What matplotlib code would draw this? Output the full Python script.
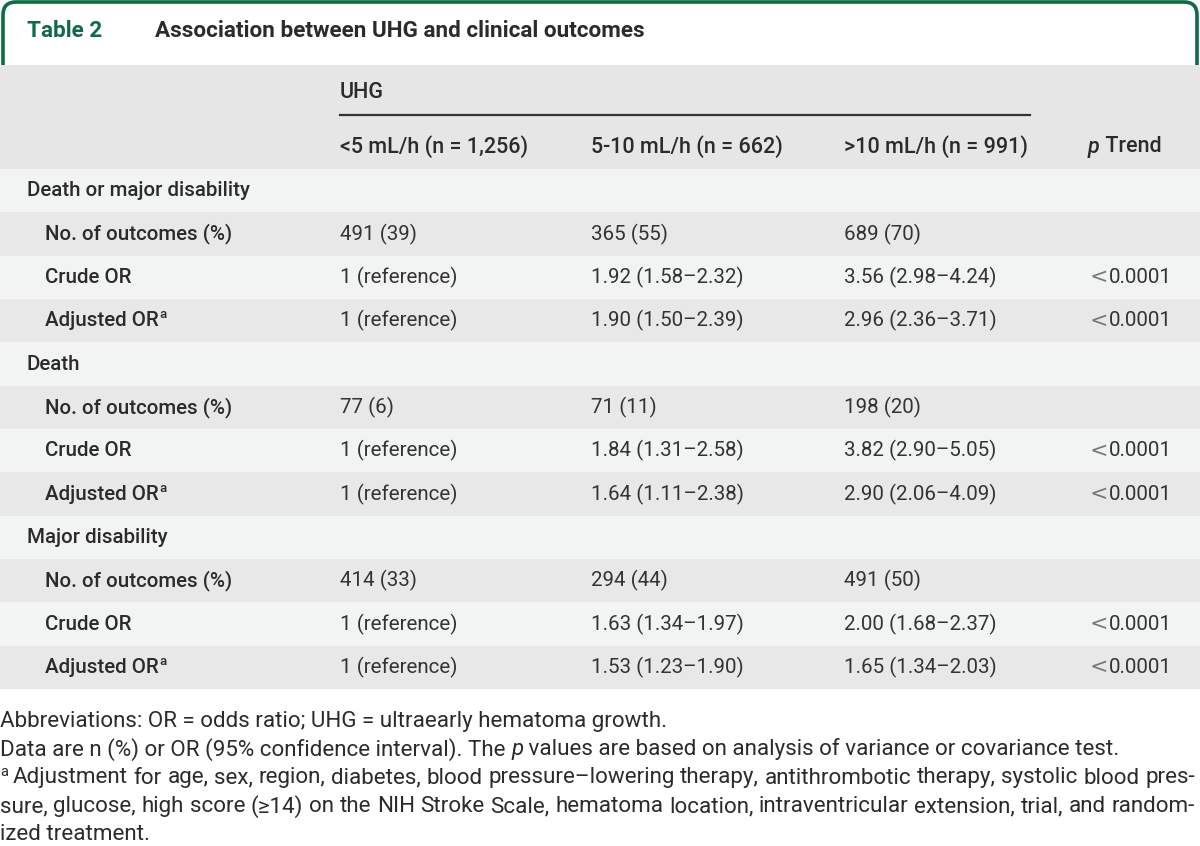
import matplotlib.pyplot as plt
from matplotlib.patches import FancyBboxPatch, Rectangle

plt.rcParams['font.family'] = ['Roboto', 'DejaVu Sans']

# table content
table_no = "Table 2"
title = "Association between UHG and clinical outcomes"
col_group = "UHG"
col_heads = ["<5 mL/h (n = 1,256)", "5-10 mL/h (n = 662)", ">10 mL/h (n = 991)"]
groups = ["Death or major disability", "Death", "Major disability"]
sub_labels = ["No. of outcomes (%)", "Crude OR", "Adjusted OR"]
lt5 = [["491 (39)", "1 (reference)", "1 (reference)"],
       ["77 (6)", "1 (reference)", "1 (reference)"],
       ["414 (33)", "1 (reference)", "1 (reference)"]]
mid = [["365 (55)", "1.92 (1.58–2.32)", "1.90 (1.50–2.39)"],
       ["71 (11)", "1.84 (1.31–2.58)", "1.64 (1.11–2.38)"],
       ["294 (44)", "1.63 (1.34–1.97)", "1.53 (1.23–1.90)"]]
gt10 = [["689 (70)", "3.56 (2.98–4.24)", "2.96 (2.36–3.71)"],
        ["198 (20)", "3.82 (2.90–5.05)", "2.90 (2.06–4.09)"],
        ["491 (50)", "2.00 (1.68–2.37)", "1.65 (1.34–2.03)"]]
p_trend = [["", "0.0001", "0.0001"],
           ["", "0.0001", "0.0001"],
           ["", "0.0001", "0.0001"]]
foot1 = "Abbreviations: OR = odds ratio; UHG = ultraearly hematoma growth."
foot2a = "Data are n (%) or OR (95% confidence interval). The "
foot2b = " values are based on analysis of variance or covariance test."
foot3 = ["Adjustment for age, sex, region, diabetes, blood pressure–lowering therapy, antithrombotic therapy, systolic blood pres-",
         "sure, glucose, high score (≥14) on the NIH Stroke Scale, hematoma location, intraventricular extension, trial, and random-",
         "ized treatment."]

GREEN = "#0f6a45"
TXT = "#2b2b2b"
HEAD_BG = "#e6e6e6"
LIGHT = "#f2f3f3"
DARK = "#e8e8e8"
FS = 14.8    # body
HFS = 15.5   # header
FFS = 16.1   # footnotes

fig = plt.figure(figsize=(12, 8.46), dpi=100)
ax = fig.add_axes([0, 0, 1, 1])
ax.set_xlim(0, 1200)
ax.set_ylim(846, 0)
ax.axis("off")
renderer = fig.canvas.get_renderer()
inv = ax.transData.inverted()


def width_of(t):
    bb = t.get_window_extent(renderer)
    return inv.transform((bb.x1, 0))[0] - inv.transform((bb.x0, 0))[0]


def put_runs(x, y, runs):
    # place text pieces one after another on the same line
    for s, kw in runs:
        t = ax.text(x, y, s, va="center", ha="left", **kw)
        bb = t.get_window_extent(renderer)
        x = inv.transform((bb.x1, bb.y0))[0]
    return x


def justify(x0, x1, y, line, **kw):
    # spread the words so the line runs from x0 to x1
    words = line.split(" ")
    texts = [ax.text(x0, y, w, va="center", ha="left", **kw) for w in words]
    widths = [width_of(t) for t in texts]
    gap = (x1 - x0 - sum(widths)) / (len(words) - 1)
    x = x0
    for t, w in zip(texts, widths):
        t.set_x(x)
        x += w + gap


# title box
ax.add_patch(FancyBboxPatch((3, 2), 1194, 90, boxstyle="round,pad=0,rounding_size=13",
                            fc="white", ec=GREEN, lw=2.6, zorder=1))
ax.text(27, 31, table_no, color=GREEN, fontsize=16.2, fontweight="bold", va="center", zorder=3)
ax.text(155, 31, title, color=TXT, fontsize=16.2, fontweight="bold", va="center", zorder=3)

# header
ax.add_patch(Rectangle((0, 65), 1200, 104, fc=HEAD_BG, ec="none", zorder=2))
ax.text(340, 92, col_group, color=TXT, fontsize=HFS, fontweight="medium", va="center", zorder=3)
ax.plot([340, 1030], [115, 115], color="#333333", lw=1.6, zorder=3)
col_x = [340, 591, 844]
for cx, h in zip(col_x, col_heads):
    ax.text(cx, 147, h, color=TXT, fontsize=HFS, fontweight="medium", va="center", zorder=3)
put_runs(1088, 147, [("p", dict(color=TXT, fontsize=HFS, fontweight="medium", style="italic", zorder=3)),
                     (" Trend", dict(color=TXT, fontsize=HFS, fontweight="medium", zorder=3))])

# body rows
row_h = 520 / 12
top = 169
r = 0
for g in range(len(groups)):
    y0 = top + r * row_h
    ax.add_patch(Rectangle((0, y0), 1200, row_h, fc=LIGHT, ec="none", zorder=2))
    ax.text(27, y0 + row_h / 2, groups[g], color=TXT, fontsize=FS, fontweight="medium", va="center", zorder=3)
    r += 1
    for k in range(len(sub_labels)):
        y0 = top + r * row_h
        yc = y0 + row_h / 2
        ax.add_patch(Rectangle((0, y0), 1200, row_h, fc=DARK if k % 2 == 0 else LIGHT, ec="none", zorder=2))
        lab = dict(color=TXT, fontsize=FS, fontweight="medium", zorder=3)
        xe = put_runs(45, yc, [(sub_labels[k], lab)])
        if sub_labels[k].startswith("Adjusted"):
            ax.text(xe + 1, yc - 6, "a", color=TXT, fontsize=9.5, fontweight="medium", va="center", zorder=3)
        for cx, col in zip(col_x, [lt5, mid, gt10]):
            ax.text(cx, yc, col[g][k], color="#333333", fontsize=FS, va="center", zorder=3)
        if p_trend[g][k]:
            t = ax.text(1172, yc, p_trend[g][k], color="#333333", fontsize=FS, va="center", ha="right", zorder=3)
            x0 = inv.transform((t.get_window_extent(renderer).x0, 0))[0]
            ax.text(x0 - 1, yc, "<", color="#777777", fontsize=FS + 1, va="center", ha="right",
                    family="DejaVu Sans", zorder=3)
        r += 1

# footnotes
fy = [721, 749.5, 778, 806.5, 835]
ax.text(0, fy[0], foot1, color=TXT, fontsize=FFS, va="center")
put_runs(0, fy[1], [(foot2a, dict(color=TXT, fontsize=FFS)),
                    ("p", dict(color=TXT, fontsize=FFS, style="italic")),
                    (foot2b, dict(color=TXT, fontsize=FFS))])
ax.text(0, fy[2] - 6, "a", color=TXT, fontsize=10.5, va="center")
justify(13, 1195, fy[2], foot3[0], color=TXT, fontsize=FFS)
justify(0, 1195, fy[3], foot3[1], color=TXT, fontsize=FFS)
ax.text(0, fy[4], foot3[2], color=TXT, fontsize=FFS, va="center")

plt.savefig("out.png", dpi=100)
